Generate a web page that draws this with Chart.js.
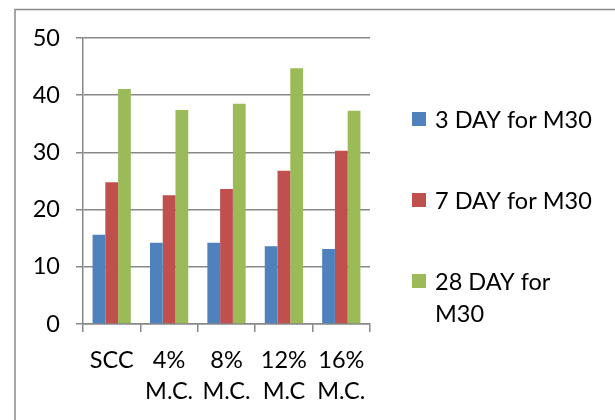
<!DOCTYPE html>
<html>
<head>
<meta charset="utf-8">
<title>Compressive strength, M30</title>
<script src="https://cdn.jsdelivr.net/npm/chart.js@4/dist/chart.umd.min.js"></script>
<style>
  html, body { margin: 0; padding: 0; background: #ffffff; }
  #wrap { width: 615px; height: 420px; position: relative; }
</style>
</head>
<body>
<div id="wrap"><canvas id="chart" width="615" height="420"></canvas></div>
<script>
// Mixes and curing-age results
const categories = ['SCC', ['4%', 'M.C.'], ['8%', 'M.C.'], ['12%', 'M.C'], ['16%', 'M.C.']];
const seriesNames = ['3 DAY for M30', '7 DAY for M30', '28 DAY for M30'];
const day3 = [15.6, 14.2, 14.2, 13.6, 13.1];
const day7 = [24.8, 22.5, 23.6, 26.8, 30.3];
const day28 = [41.1, 37.4, 38.5, 44.7, 37.3];
const yTicks = [0, 10, 20, 30, 40, 50];

const colors = ['#4F81BD', '#C0504D', '#9BBB59'];
const FONT = 'Lato, "Liberation Sans", sans-serif';
const FONT_SIZE = 23.5;
const GRID = '#888888';

// Outer frame and a right-hand legend with word-wrapped labels
const frameAndLegend = {
  id: 'frameAndLegend',
  afterDraw(chart) {
    const ctx = chart.ctx;
    ctx.save();
    ctx.strokeStyle = GRID;
    ctx.lineWidth = 1.5;
    ctx.beginPath();
    ctx.moveTo(15, 420);
    ctx.lineTo(15, 9.5);
    ctx.lineTo(615, 9.5);
    ctx.stroke();

    const boxX = 412, textX = 435, box = 14;
    const maxW = 165, lineH = 32, step = 81;
    let y = 119;
    ctx.font = FONT_SIZE + 'px ' + FONT;
    ctx.textBaseline = 'middle';
    ctx.textAlign = 'left';
    chart.data.datasets.forEach((ds) => {
      const words = ds.label.split(' ');
      const lines = [];
      let cur = '';
      words.forEach((w) => {
        const t = cur ? cur + ' ' + w : w;
        if (cur && ctx.measureText(t).width > maxW) { lines.push(cur); cur = w; }
        else cur = t;
      });
      if (cur) lines.push(cur);
      ctx.fillStyle = ds.backgroundColor;
      ctx.fillRect(boxX, y - box / 2, box, box);
      ctx.fillStyle = '#000000';
      lines.forEach((ln, i) => ctx.fillText(ln, textX, y + 1 + i * lineH));
      y += step;
    });
    ctx.restore();
  }
};

new Chart(document.getElementById('chart'), {
  type: 'bar',
  data: {
    labels: categories,
    datasets: [
      { label: seriesNames[0], data: day3, backgroundColor: colors[0] },
      { label: seriesNames[1], data: day7, backgroundColor: colors[1] },
      { label: seriesNames[2], data: day28, backgroundColor: colors[2] }
    ]
  },
  options: {
    responsive: false,
    animation: false,
    devicePixelRatio: 1,
    layout: { padding: { left: 0, top: 38, right: 245, bottom: 0 } },
    datasets: { bar: { categoryPercentage: 3 / 4.5, barPercentage: 1, borderWidth: 0 } },
    plugins: {
      legend: { display: false },
      tooltip: { enabled: false }
    },
    scales: {
      x: {
        grid: { display: true, drawOnChartArea: false, drawTicks: true, tickLength: 8, color: GRID, lineWidth: 1.5, offset: true },
        border: { display: true, color: GRID, width: 1.5 },
        ticks: { color: '#000000', font: { family: FONT, size: FONT_SIZE, lineHeight: 31 / FONT_SIZE }, padding: 13, maxRotation: 0, autoSkip: false },
        afterFit(scale) { scale.height = 96; }
      },
      y: {
        min: 0,
        max: 50,
        afterBuildTicks(scale) { scale.ticks = yTicks.map(v => ({ value: v })); },
        grid: { color: GRID, lineWidth: 1.5, tickLength: 7, drawTicks: true },
        border: { display: true, color: GRID, width: 1.5 },
        ticks: { color: '#000000', font: { family: FONT, size: FONT_SIZE }, padding: 16 },
        afterFit(scale) { scale.width = 83; }
      }
    }
  },
  plugins: [frameAndLegend]
});
</script>
</body>
</html>
